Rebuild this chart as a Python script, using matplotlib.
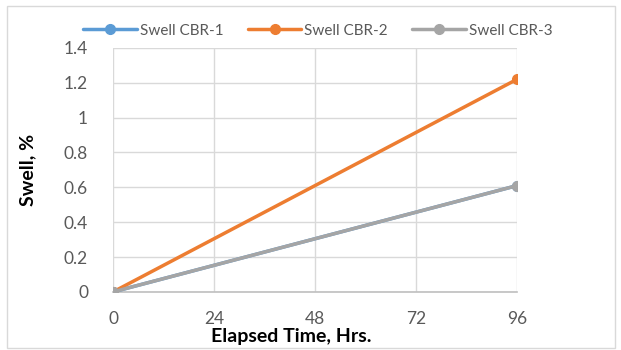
import matplotlib.pyplot as plt
from matplotlib.patches import Rectangle

# data
hours = [0, 96]
swell_cbr1 = [0, 0.61]
swell_cbr2 = [0, 1.22]
swell_cbr3 = [0, 0.61]
labels = ['Swell CBR-1', 'Swell CBR-2', 'Swell CBR-3']
colors = ['#5b9bd5', '#ed7d31', '#a5a5a5']
x_ticks = [0, 24, 48, 72, 96]
y_ticks = [0, 0.2, 0.4, 0.6, 0.8, 1, 1.2, 1.4]

plt.rcParams['font.family'] = ['Lato', 'DejaVu Sans']

fig = plt.figure(figsize=(6.21, 3.5), dpi=100)
ax = fig.add_axes([0.182, 0.166, 0.6505, 0.697])

# outer chart border like the Excel chart area
fig.patches.append(Rectangle((0.011, 0.006), 0.98, 0.978, transform=fig.transFigure,
                             fill=False, edgecolor='#d9d9d9', linewidth=1))

for ys, lab, col in zip([swell_cbr1, swell_cbr2, swell_cbr3], labels, colors):
    ax.plot(hours, ys, color=col, linewidth=2.5, marker='o', markersize=7,
            label=lab, solid_capstyle='round', zorder=3)

ax.set_xlim(0, 96)
ax.set_ylim(0, 1.4)
ax.set_xticks(x_ticks)
ax.set_yticks(y_ticks)
ax.set_yticklabels(['0', '0.2', '0.4', '0.6', '0.8', '1', '1.2', '1.4'])
ax.grid(True, color='#d9d9d9', linewidth=1)
ax.set_axisbelow(True)
for side in ['top', 'right', 'left']:
    ax.spines[side].set_visible(False)
ax.spines['bottom'].set_color('#bfbfbf')
ax.spines['bottom'].set_linewidth(1.2)
ax.tick_params(length=0, colors='#595959', labelsize=12.5)
ax.tick_params(axis='x', pad=14)
ax.tick_params(axis='y', pad=18)

# Excel put the axis titles a bit off the plot centre
ax.set_xlabel('Elapsed Time, Hrs.', fontsize=14, fontweight='bold', va='center')
ax.xaxis.set_label_coords(0.44, -0.184)
ax.set_ylabel('Swell, %', fontsize=14, fontweight='bold', va='center')
ax.yaxis.set_label_coords(-0.211, 0.5)

leg = fig.legend(loc='center', bbox_to_anchor=(0.512, 0.912), ncol=3, frameon=False,
                 fontsize=11, handlelength=3.5, handletextpad=0.2, columnspacing=1.6)
for t in leg.get_texts():
    t.set_color('#595959')

fig.savefig('out.png', dpi=100)
